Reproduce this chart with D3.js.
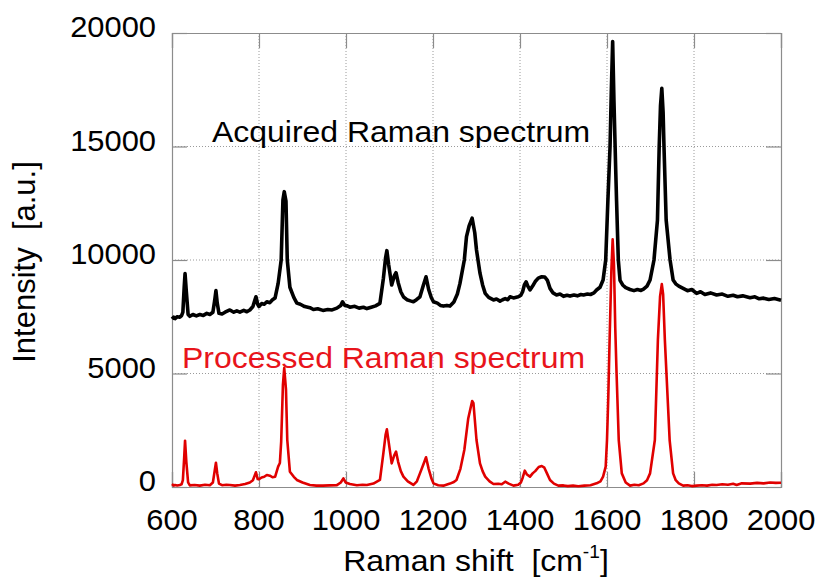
<!DOCTYPE html>
<html>
<head>
<meta charset="utf-8">
<script src="https://cdn.jsdelivr.net/npm/d3@7"></script>
<style>
  html, body { margin: 0; padding: 0; background: #fff; }
  svg text { font-family: "Liberation Sans", Arial, sans-serif; white-space: pre; }
</style>
</head>
<body>
<svg id="chart" width="819" height="579"></svg>
<script>
// ---- data ----
const xTicks = [600, 800, 1000, 1200, 1400, 1600, 1800, 2000];
const yTicks = [0, 5000, 10000, 15000, 20000];

const acquiredShift = [600, 604, 607, 612, 618, 622, 625, 628, 630, 633, 637, 641, 648, 656, 664, 672, 680, 687, 694, 698, 701, 704, 708, 715, 722, 733, 742, 749, 756, 765, 772, 779, 786, 790, 793, 797, 800, 806, 812, 818, 825, 831, 837, 844, 851, 855, 858, 862, 865, 871, 880, 887, 895, 905, 917, 925, 935, 947, 958, 968, 979, 988, 992, 997, 1003, 1009, 1020, 1030, 1040, 1048, 1058, 1068, 1078, 1086, 1091, 1094, 1098, 1105, 1111, 1115, 1120, 1126, 1132, 1140, 1148, 1155, 1162, 1170, 1178, 1184, 1190, 1196, 1201, 1210, 1217, 1224, 1232, 1239, 1248, 1256, 1262, 1272, 1277, 1283, 1290, 1296, 1300, 1308, 1314, 1320, 1328, 1339, 1346, 1354, 1360, 1366, 1372, 1377, 1385, 1396, 1402, 1406, 1410, 1414, 1418, 1423, 1429, 1435, 1442, 1450, 1457, 1463, 1469, 1476, 1484, 1492, 1500, 1508, 1515, 1524, 1532, 1540, 1546, 1555, 1562, 1570, 1576, 1584, 1591, 1597, 1602, 1607, 1610, 1613, 1616, 1620, 1622, 1626, 1630, 1636, 1643, 1653, 1662, 1670, 1678, 1684, 1692, 1699, 1708, 1716, 1720, 1723, 1726, 1729, 1731, 1736, 1745, 1752, 1758, 1765, 1775, 1785, 1795, 1806, 1815, 1825, 1838, 1852, 1865, 1878, 1890, 1900, 1912, 1929, 1940, 1950, 1960, 1972, 1985, 2000];
const acquiredIntensity = [7400, 7480, 7420, 7500, 7480, 7550, 7700, 8800, 9400, 8600, 7600, 7520, 7600, 7540, 7600, 7560, 7650, 7600, 7700, 8200, 8650, 8100, 7650, 7620, 7700, 7800, 7700, 7760, 7700, 7780, 7720, 7800, 7950, 8200, 8380, 8050, 7950, 8080, 8050, 8160, 8120, 8250, 8330, 8970, 10000, 12640, 13010, 12600, 10000, 8800, 8350, 8100, 8050, 7950, 7900, 7820, 7850, 7780, 7820, 7800, 7880, 8000, 8160, 8000, 7980, 7920, 7960, 7880, 7920, 7860, 7920, 7980, 8090, 9200, 10100, 10410, 9800, 8900, 9300, 9440, 9000, 8600, 8380, 8250, 8200, 8160, 8250, 8380, 8900, 9260, 8700, 8350, 8160, 8100, 8000, 7970, 8000, 7970, 8150, 8500, 8970, 10000, 11030, 11500, 11840, 11200, 10440, 9420, 8900, 8530, 8350, 8240, 8280, 8190, 8250, 8300, 8250, 8380, 8330, 8380, 8450, 8600, 8900, 9040, 8850, 8680, 8850, 9050, 9200, 9260, 9250, 9100, 8750, 8550, 8460, 8500, 8400, 8450, 8410, 8460, 8420, 8480, 8460, 8500, 8480, 8550, 8680, 8800, 9120, 10000, 12600, 15000, 17500, 19620, 17000, 14000, 12600, 10000, 9100, 8900, 8780, 8700, 8650, 8700, 8660, 8720, 8850, 9120, 10000, 11760, 15000, 16800, 17560, 16500, 15000, 11760, 10000, 9120, 8950, 8850, 8750, 8650, 8700, 8530, 8600, 8480, 8550, 8460, 8500, 8400, 8450, 8380, 8420, 8340, 8380, 8290, 8320, 8260, 8300, 8230];

const processedShift = [600, 604, 607, 612, 618, 622, 625, 628, 630, 633, 637, 641, 652, 664, 676, 687, 694, 698, 701, 704, 708, 715, 725, 733, 745, 756, 768, 779, 786, 790, 793, 797, 800, 806, 812, 818, 825, 831, 837, 844, 848, 851, 855, 858, 862, 865, 871, 880, 887, 900, 917, 932, 947, 962, 979, 988, 994, 999, 1009, 1025, 1038, 1048, 1063, 1078, 1086, 1091, 1094, 1098, 1105, 1111, 1115, 1120, 1126, 1132, 1142, 1155, 1163, 1170, 1178, 1184, 1190, 1196, 1201, 1212, 1224, 1239, 1248, 1254, 1263, 1272, 1281, 1290, 1293, 1300, 1308, 1314, 1320, 1330, 1339, 1350, 1358, 1366, 1374, 1385, 1396, 1402, 1406, 1411, 1416, 1423, 1429, 1435, 1443, 1450, 1456, 1462, 1469, 1478, 1488, 1500, 1510, 1522, 1534, 1548, 1562, 1576, 1585, 1591, 1597, 1600, 1603, 1606, 1610, 1613, 1616, 1619, 1622, 1627, 1634, 1643, 1653, 1663, 1673, 1684, 1692, 1699, 1710, 1717, 1722, 1726, 1729, 1733, 1744, 1752, 1758, 1765, 1775, 1785, 1795, 1806, 1818, 1830, 1842, 1852, 1865, 1878, 1890, 1898, 1910, 1929, 1945, 1960, 1975, 1988, 2000];
const processedIntensity = [130, 60, 90, 70, 90, 120, 300, 1300, 2040, 1100, 200, 70, 90, 60, 100, 80, 200, 700, 1070, 600, 150, 80, 100, 90, 60, 90, 130, 200, 300, 500, 650, 350, 340, 420, 450, 530, 500, 430, 450, 900, 1060, 2000, 4500, 5240, 4300, 2070, 675, 450, 310, 200, 90, 60, 60, 70, 80, 200, 380, 200, 130, 80, 100, 90, 150, 310, 1500, 2300, 2540, 2000, 1040, 1400, 1560, 1100, 700, 455, 250, 90, 250, 600, 1000, 1310, 800, 400, 160, 80, 60, 150, 220, 310, 800, 1630, 3020, 3790, 3690, 2070, 1040, 700, 455, 250, 130, 140, 120, 235, 150, 60, 100, 200, 400, 720, 550, 455, 600, 700, 880, 925, 850, 600, 310, 150, 60, 70, 40, 60, 30, 60, 80, 160, 250, 455, 900, 2070, 4000, 6500, 9500, 10910, 9800, 7000, 5000, 2070, 600, 200, 60, 100, 80, 160, 300, 600, 2070, 6480, 8400, 8940, 8500, 6480, 2070, 600, 300, 160, 60, 80, 40, 60, 80, 60, 100, 90, 120, 100, 140, 90, 160, 150, 180, 160, 200, 180, 190];

const labels = {
  acquired: "Acquired Raman spectrum",
  processed: "Processed Raman spectrum",
  yTitle: "Intensity  [a.u.]",
  xTitle: "Raman shift  [cm"
};

// ---- layout ----
const svg = d3.select("#chart");
const L = 172, R = 781, T = 33, B = 487;
const x = d3.scaleLinear().domain([600, 2000]).range([L, R]);
const y = d3.scaleLinear().domain([0, 20000]).range([B, T]);

const gridColor = "#9a9a9a";
const frameColor = "#8c8c8c";
const sx = 1.065; // horizontal stretch of text in the reference

// gridlines (dotted)
svg.append("g").selectAll("line").data(xTicks.slice(1, -1)).join("line")
  .attr("x1", d => x(d)).attr("x2", d => x(d)).attr("y1", T).attr("y2", B)
  .attr("stroke", gridColor).attr("stroke-width", 1).attr("stroke-dasharray", "1,2");
svg.append("g").selectAll("line").data(yTicks.slice(1, -1)).join("line")
  .attr("x1", L).attr("x2", R).attr("y1", d => y(d)).attr("y2", d => y(d))
  .attr("stroke", gridColor).attr("stroke-width", 1).attr("stroke-dasharray", "1,2");

// axes with inward ticks on all four sides
const tickLen = 15;
const axB = d3.axisBottom(x).tickValues(xTicks).tickSize(-tickLen).tickFormat("");
const axT = d3.axisTop(x).tickValues(xTicks).tickSize(-tickLen).tickFormat("");
const axL = d3.axisLeft(y).tickValues(yTicks).tickSize(-tickLen).tickFormat("");
const axR = d3.axisRight(y).tickValues(yTicks).tickSize(-tickLen).tickFormat("");
[[axB, `translate(0,${B})`], [axT, `translate(0,${T})`], [axL, `translate(${L},0)`], [axR, `translate(${R},0)`]]
  .forEach(([ax, tr]) => {
    const g = svg.append("g").attr("transform", tr).call(ax);
    g.selectAll("path.domain").attr("stroke", frameColor).attr("stroke-width", 1.2);
    g.selectAll(".tick line").attr("stroke", frameColor).attr("stroke-width", 1.2);
  });

// tick labels
svg.append("g").selectAll("text").data(xTicks).join("text")
  .attr("transform", d => `translate(${x(d)},530) scale(${sx},1)`)
  .attr("text-anchor", "middle").attr("font-size", 29).attr("fill", "#000")
  .text(d => d);
svg.append("g").selectAll("text").data(yTicks).join("text")
  .attr("transform", d => `translate(156,${y(d) + 4}) scale(${sx},1)`)
  .attr("text-anchor", "end").attr("font-size", 29).attr("fill", "#000")
  .text(d => d);

// spectra
const line = d3.line().x(d => x(d[0])).y(d => y(d[1]));
const acquired = d3.zip(acquiredShift, acquiredIntensity);
const processed = d3.zip(processedShift, processedIntensity);

svg.append("path").datum(processed).attr("d", line)
  .attr("fill", "none").attr("stroke", "#e00000").attr("stroke-width", 2.6)
  .attr("stroke-linejoin", "round");
svg.append("path").datum(acquired).attr("d", line)
  .attr("fill", "none").attr("stroke", "#000").attr("stroke-width", 3.6)
  .attr("stroke-linejoin", "round");

// annotations
svg.append("text").attr("transform", `translate(212,142) scale(${sx},1)`).attr("font-size", 30)
  .attr("fill", "#000").text(labels.acquired);
svg.append("text").attr("transform", `translate(182,368) scale(${sx},1)`).attr("font-size", 30)
  .attr("fill", "#e8141b").text(labels.processed);

// axis titles
svg.append("text").attr("transform", "translate(35,262) rotate(-90)")
  .attr("text-anchor", "middle").attr("font-size", 31).attr("fill", "#000")
  .text(labels.yTitle);
const xt = svg.append("text").attr("transform", `translate(476,571) scale(${sx},1)`)
  .attr("text-anchor", "middle").attr("font-size", 30).attr("fill", "#000");
xt.append("tspan").text(labels.xTitle);
xt.append("tspan").attr("font-size", 18).attr("dy", -13).text("-1");
xt.append("tspan").attr("dy", 13).text("]");
</script>
</body>
</html>
